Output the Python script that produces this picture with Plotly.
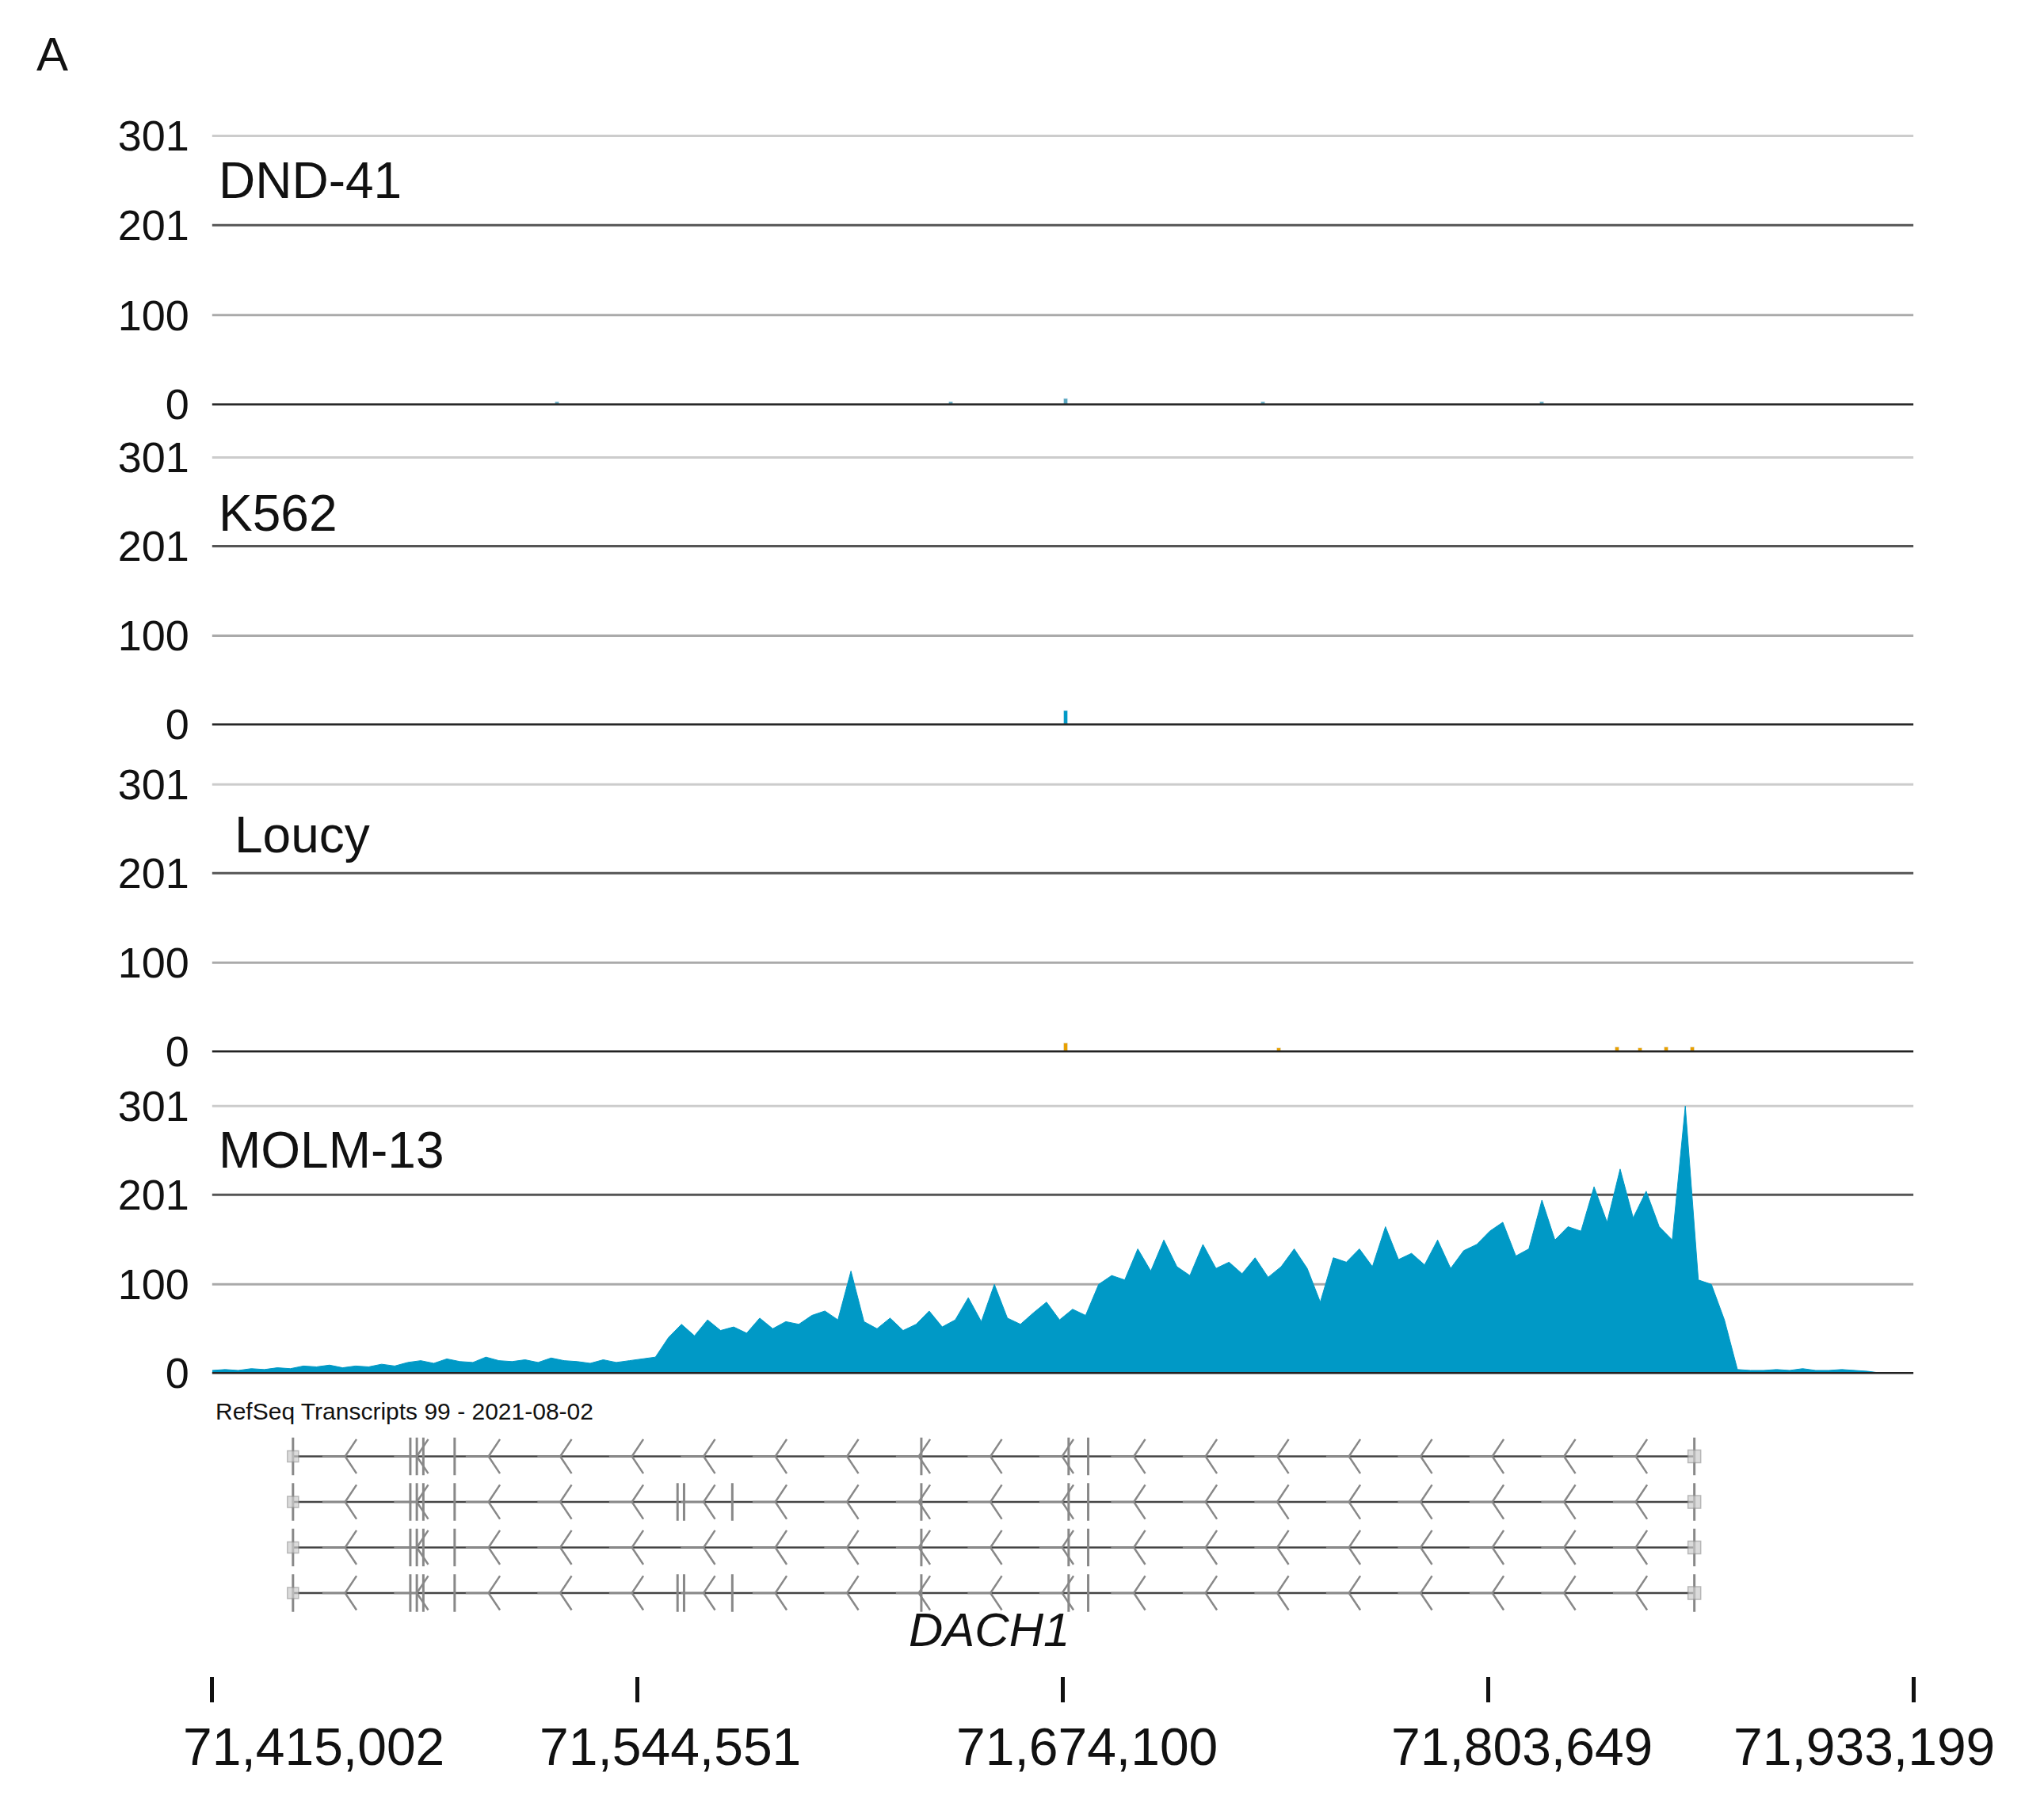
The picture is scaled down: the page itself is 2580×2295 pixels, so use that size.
import plotly.graph_objects as go

FONT = "Liberation Sans, Arial, sans-serif"

# genomic window and coverage bins
X_START = 71415002
X_END = 71933199
BIN_SIZE = 3971
tick_vals = [71415002, 71544551, 71674100, 71803649, 71933199]
tick_text = ["71,415,002", "71,544,551", "71,674,100", "71,803,649", "71,933,199"]
y_ticks = [0, 100, 201, 301]
track_names = ["DND-41", "K562", "Loucy", "MOLM-13"]

molm13 = [
    3, 4, 3, 5, 4, 6, 5,
    8, 7, 9, 6, 8, 7, 10, 8,
    12, 14, 11, 16, 13, 12, 18, 14, 13, 15, 12, 17, 14, 13, 11, 15, 12, 14, 16, 18,
    40, 55, 42, 60, 48, 52, 45, 62, 50, 58, 55, 65, 70, 60,
    115,
    58, 50, 62, 48, 55, 70, 52, 60, 85, 58, 100, 62, 55, 68, 80, 60, 72, 65,
    100, 110, 105, 140, 115, 150, 120, 110, 145, 118, 125, 112, 130, 108, 120, 140,
    118, 80, 130, 125, 140, 120, 165, 128, 135, 122, 150, 118, 138, 145, 160, 170, 132, 140,
    195, 150, 165, 160, 210, 170, 230, 175, 205, 165, 150, 301,
    105, 100, 60,
    4, 3, 3, 4, 3, 5, 3, 3, 4, 3, 2,
    0, 0, 0,
]
# sparse blips in the other lines: (position, height)
dnd41_pos = [71520000, 71640000, 71675000, 71735000, 71820000]
dnd41_val = [3, 3, 6, 3, 3]
k562_pos = [71675000]
k562_val = [15]
loucy_pos = [71675000, 71740000, 71843000, 71850000, 71858000, 71866000]
loucy_val = [9, 4, 5, 4, 5, 5]

# RefSeq DACH1 transcripts
tx_start, tx_end = 71439621, 71866480
common_exons = [71475358, 71477343, 71479329, 71488859, 71631014, 71675884, 71681840]
extra_exons = [71556760, 71558745, 71573437]
has_extra = [False, True, False, True]
arrow_pos = [71455505, 71477345, 71499185, 71521025, 71542865, 71564705, 71586545,
             71608385, 71630225, 71652065, 71673905, 71695745, 71717585, 71739425,
             71761265, 71783105, 71804945, 71826785, 71848625]

XDOM = [0.1007, 0.933]
domains = [(0.7868, 0.9405), (0.6065, 0.7594), (0.4223, 0.5752), (0.2411, 0.3940)]

fig = go.Figure()
blue = "#0099c6"
orange = "#e8a000"

for k, name in enumerate(track_names):
    ax = "" if k == 0 else str(k + 1)
    if k == 3:
        xs = [X_START + i * BIN_SIZE for i in range(len(molm13))]
        fig.add_trace(go.Scatter(x=xs, y=molm13, mode="lines", fill="tozeroy",
                                 line=dict(color=blue, width=1), fillcolor=blue,
                                 xaxis="x" + ax, yaxis="y" + ax, showlegend=False))
    else:
        pos, val, col = [(dnd41_pos, dnd41_val, "#5aa7c0"), (k562_pos, k562_val, blue),
                         (loucy_pos, loucy_val, orange)][k]
        fig.add_trace(go.Bar(x=pos, y=val, width=1200, marker_color=col,
                             xaxis="x" + ax, yaxis="y" + ax, showlegend=False))
    fig.update_layout(**{
        "xaxis" + ax: dict(domain=XDOM, range=[X_START, X_END], visible=False,
                           anchor="y" + ax),
        "yaxis" + ax: dict(domain=list(domains[k]), range=[-3, 303], tickvals=y_ticks,
                           ticktext=[str(v) for v in y_ticks], showgrid=False,
                           zeroline=False, showline=False, ticks="",
                           ticklabelstandoff=28, anchor="x" + ax,
                           tickfont=dict(family=FONT, size=54, color="#111")),
    })
    grid_cols = {0: "#222222", 100: "#aaaaaa", 201: "#555555", 301: "#cccccc"}
    for v in y_ticks:
        fig.add_shape(type="line", xref="x" + ax + " domain", yref="y" + ax,
                      x0=0, x1=1, y0=v, y1=v, layer="below" if v else "above",
                      line=dict(color=grid_cols[v], width=3 if v else 2.5))
    fig.add_annotation(text=name, xref="x" + ax + " domain", yref="y" + ax,
                       x=0.012 if k == 2 else 0.003, y=[251, 238, 244, 251][k],
                       xanchor="left", yanchor="middle", showarrow=False,
                       font=dict(family=FONT, size=64, color="#111"))

# gene track
gx, gy = "x5", "y5"
fig.update_layout(
    xaxis5=dict(domain=XDOM, range=[X_START, X_END], visible=False, anchor="y5"),
    yaxis5=dict(domain=[0.1059, 0.2085], range=[3.5, -0.5], visible=False, anchor="x5"),
)
for r in range(4):
    fig.add_trace(go.Scatter(x=[tx_start, tx_end], y=[r, r], mode="lines",
                             line=dict(color="#444", width=2.5), xaxis=gx, yaxis=gy,
                             showlegend=False))
    fig.add_trace(go.Scatter(x=arrow_pos, y=[r] * len(arrow_pos), mode="markers",
                             marker=dict(symbol="y-left", size=36, line=dict(color="#888", width=2.5)),
                             xaxis=gx, yaxis=gy, showlegend=False))
    ex = common_exons + (extra_exons if has_extra[r] else [])
    fig.add_trace(go.Scatter(x=ex + [tx_start, tx_end], y=[r] * (len(ex) + 2), mode="markers",
                             marker=dict(symbol="line-ns", size=34, line=dict(color="#888", width=3)),
                             xaxis=gx, yaxis=gy, showlegend=False))
    fig.add_trace(go.Scatter(x=[tx_start, tx_end], y=[r, r], mode="markers",
                             marker=dict(symbol="square", size=[14, 16], color="#ccc",
                                         line=dict(color="#999", width=1.5)),
                             xaxis=gx, yaxis=gy, showlegend=False))

# coordinate axis
fig.update_layout(xaxis6=dict(domain=XDOM, range=[X_START, X_END],
                              tickvals=tick_vals, ticktext=[""] * 5, ticks="outside",
                              ticklen=32, tickwidth=5, tickcolor="#111", showgrid=False,
                              zeroline=False, showline=False, anchor="free",
                              position=0.0718, overlaying="x"))
fig.add_trace(go.Scatter(x=[X_START], y=[0], mode="markers", marker=dict(opacity=0),
                         xaxis="x6", yaxis="y", showlegend=False, hoverinfo="skip"))
shifts = [128, 41, 31, 43, -62]
for v, t, s in zip(tick_vals, tick_text, shifts):
    fig.add_annotation(text=t, x=v, xref="x6", y=0.032, yref="paper", xshift=s,
                       yanchor="middle", showarrow=False,
                       font=dict(family=FONT, size=66, color="#111"))

fig.add_annotation(text="RefSeq Transcripts 99 - 2021-08-02", xref="paper", yref="paper",
                   x=0.1015, y=0.2212, xanchor="left", yanchor="middle", showarrow=False,
                   font=dict(family=FONT, size=30, color="#111"))
fig.add_annotation(text="<i>DACH1</i>", xref="paper", yref="paper", x=0.481, y=0.0981,
                   xanchor="center", yanchor="middle", showarrow=False,
                   font=dict(family=FONT, size=60, color="#111"))
fig.add_annotation(text="A", xref="paper", yref="paper", x=0.0223, y=0.9857,
                   xanchor="center", yanchor="middle", showarrow=False,
                   font=dict(family=FONT, size=60, color="#111"))

fig.update_layout(width=2580, height=2295, margin=dict(l=0, r=0, t=0, b=0),
                  paper_bgcolor="white", plot_bgcolor="white", bargap=0)
fig.write_html("out.html")
